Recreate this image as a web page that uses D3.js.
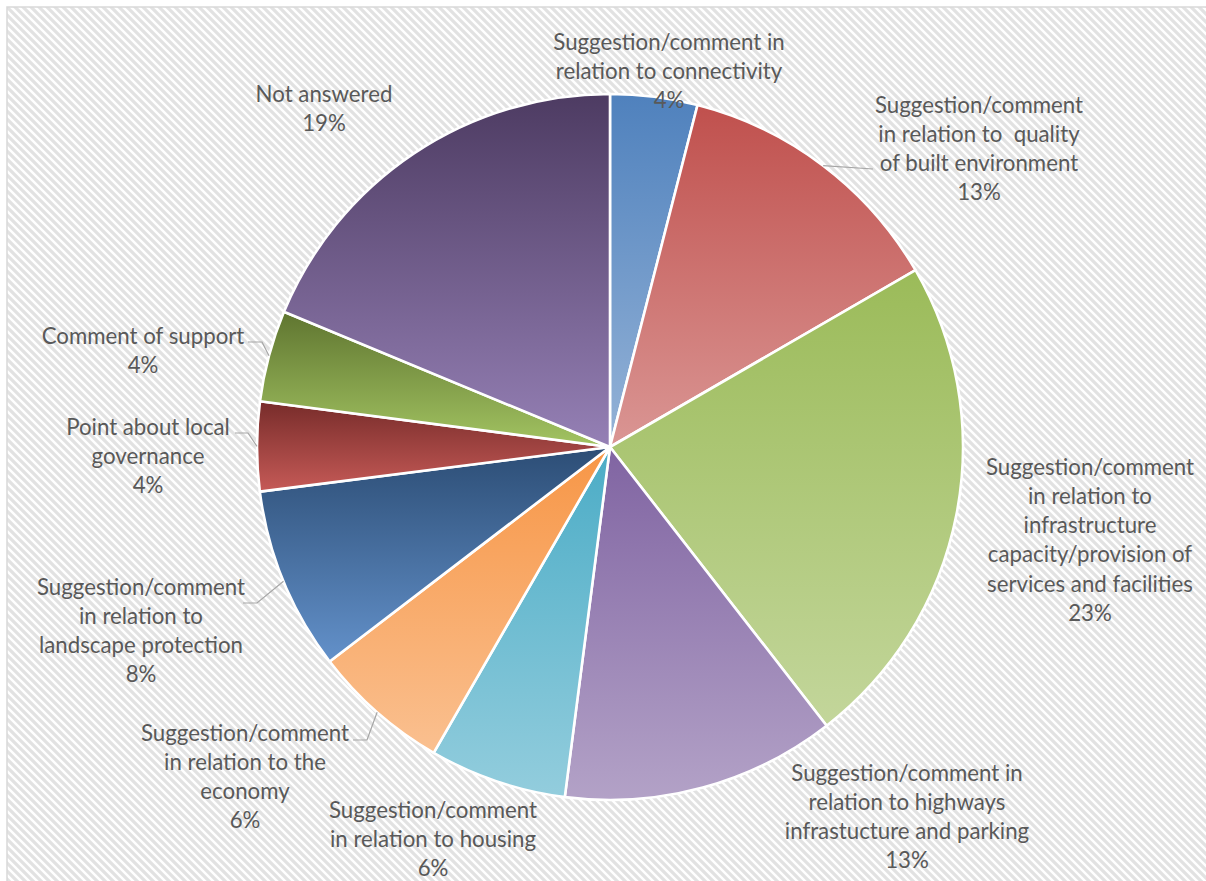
<!DOCTYPE html>
<html>
<head>
<meta charset="utf-8">
<script src="https://cdn.jsdelivr.net/npm/d3@7"></script>
<style>
  html, body { margin: 0; padding: 0; background: #fff; }
  svg { display: block; }
</style>
</head>
<body>
<svg id="chart" width="1206" height="881"></svg>
<script>
// ---- data ----
const categories = [
  "Suggestion/comment in relation to connectivity",
  "Suggestion/comment in relation to  quality of built environment",
  "Suggestion/comment in relation to infrastructure capacity/provision of services and facilities",
  "Suggestion/comment in relation to highways infrastucture and parking",
  "Suggestion/comment in relation to housing",
  "Suggestion/comment in relation to the economy",
  "Suggestion/comment in relation to landscape protection",
  "Point about local governance",
  "Comment of support",
  "Not answered"
];
const values = [4.0, 12.7, 22.9, 12.6, 6.3, 6.3, 8.4, 4.1, 4.2, 18.8];
const percentLabels = ["4%", "13%", "23%", "13%", "6%", "6%", "8%", "4%", "4%", "19%"];
const labelLines = [
  ["Suggestion/comment in", "relation to connectivity"],
  ["Suggestion/comment", "in relation to  quality", "of built environment"],
  ["Suggestion/comment", "in relation to", "infrastructure", "capacity/provision of", "services and facilities"],
  ["Suggestion/comment in", "relation to highways", "infrastucture and parking"],
  ["Suggestion/comment", "in relation to housing"],
  ["Suggestion/comment", "in relation to the", "economy"],
  ["Suggestion/comment", "in relation to", "landscape protection"],
  ["Point about local", "governance"],
  ["Comment of support"],
  ["Not answered"]
];

// ---- styles / layout ----
const gradTop = ["#4F81BD","#C0504D","#9BBB59","#8064A2","#4BACC6","#F79646","#2C4D75","#772C2A","#5F7530","#4D3B62"];
const gradBot = ["#95B3D7","#DA9694","#C3D69B","#B3A2C7","#93CDDD","#FAC090","#6391CA","#C65A57","#A3C462","#9580B5"];
const labelPos = [
  [669, 42], [979, 105], [1090, 467], [907, 773], [433, 810],
  [245, 733], [141, 587], [148, 427], [143, 336], [324, 94]
];
// leader lines: [elbowX, elbowY, endX, endY] or null
const leaders = [
  null, [873, 169, 873, 169], null, null, null,
  [367, 740, 353, 740], [257, 603, 243, 603], [248, 433, 235, 433], [262, 342, 248, 342], null
];
const lineGap = 29.2;
const cx = 610, cy = 447, R = 353;
const textColor = "#595959";

const svg = d3.select("#chart");
const defs = svg.append("defs");

// background hatch
const pat = defs.append("pattern")
  .attr("id", "hatch").attr("patternUnits", "userSpaceOnUse")
  .attr("width", 8).attr("height", 8);
pat.append("rect").attr("width", 8).attr("height", 8).attr("fill", "#ffffff");
pat.append("path")
  .attr("d", "M-2,-2 L10,10 M-2,6 L2,10 M6,-2 L10,2")
  .attr("stroke", "#E2E2E2").attr("stroke-width", 3.2).attr("fill", "none");

svg.append("rect").attr("x", 0).attr("y", 0).attr("width", 1206).attr("height", 881).attr("fill", "#fff");
svg.append("rect").attr("x", 7).attr("y", 7).attr("width", 1230).attr("height", 900)
  .attr("fill", "url(#hatch)").attr("stroke", "#D9D9D9").attr("stroke-width", 1.5);

// gradients
values.forEach((v, i) => {
  const g = defs.append("linearGradient").attr("id", "g" + i)
    .attr("x1", 0).attr("y1", 0).attr("x2", 0).attr("y2", 1);
  g.append("stop").attr("offset", "0%").attr("stop-color", gradTop[i]);
  g.append("stop").attr("offset", "100%").attr("stop-color", gradBot[i]);
});

const pie = d3.pie().sort(null).value(d => d)(values);
const arc = d3.arc().innerRadius(0).outerRadius(R);
const outerArc = d3.arc().innerRadius(R).outerRadius(R);

const gPie = svg.append("g").attr("transform", `translate(${cx},${cy})`);
gPie.selectAll("path.slice").data(pie).join("path")
  .attr("class", "slice")
  .attr("d", arc)
  .attr("fill", (d, i) => `url(#g${i})`)
  .attr("stroke", "#fff").attr("stroke-width", 2.6).attr("stroke-linejoin", "round");

// font sizing: match "Suggestion/comment" width ~208px
const fontFamily = "Lato, 'Open Sans', sans-serif";
const probe = svg.append("text").attr("font-family", fontFamily).attr("font-size", 100).text("Suggestion/comment");
const w = probe.node().getComputedTextLength();
probe.remove();
const fontSize = w > 0 ? 100 * 208 / w : 20;

// leader lines
pie.forEach((d, i) => {
  const L = leaders[i];
  if (!L) return;
  const c = outerArc.centroid(d);
  const pts = [[cx + c[0], cy + c[1]], [L[0], L[1]], [L[2], L[3]]];
  svg.append("path")
    .attr("d", d3.line()(pts))
    .attr("fill", "none").attr("stroke", "#A6A6A6").attr("stroke-width", 1.2);
});

// labels
const gLab = svg.append("g").attr("font-family", fontFamily).attr("font-size", fontSize)
  .attr("fill", textColor).attr("text-anchor", "middle");
labelLines.forEach((lines, i) => {
  const all = lines.concat([percentLabels[i]]);
  const t = gLab.append("text").attr("x", labelPos[i][0]).attr("y", labelPos[i][1]);
  all.forEach((ln, j) => {
    t.append("tspan").attr("x", labelPos[i][0])
      .attr("y", labelPos[i][1] + j * lineGap)
      .attr("dy", "0.35em")
      .attr("xml:space", "preserve")
      .text(ln);
  });
});
</script>
</body>
</html>
